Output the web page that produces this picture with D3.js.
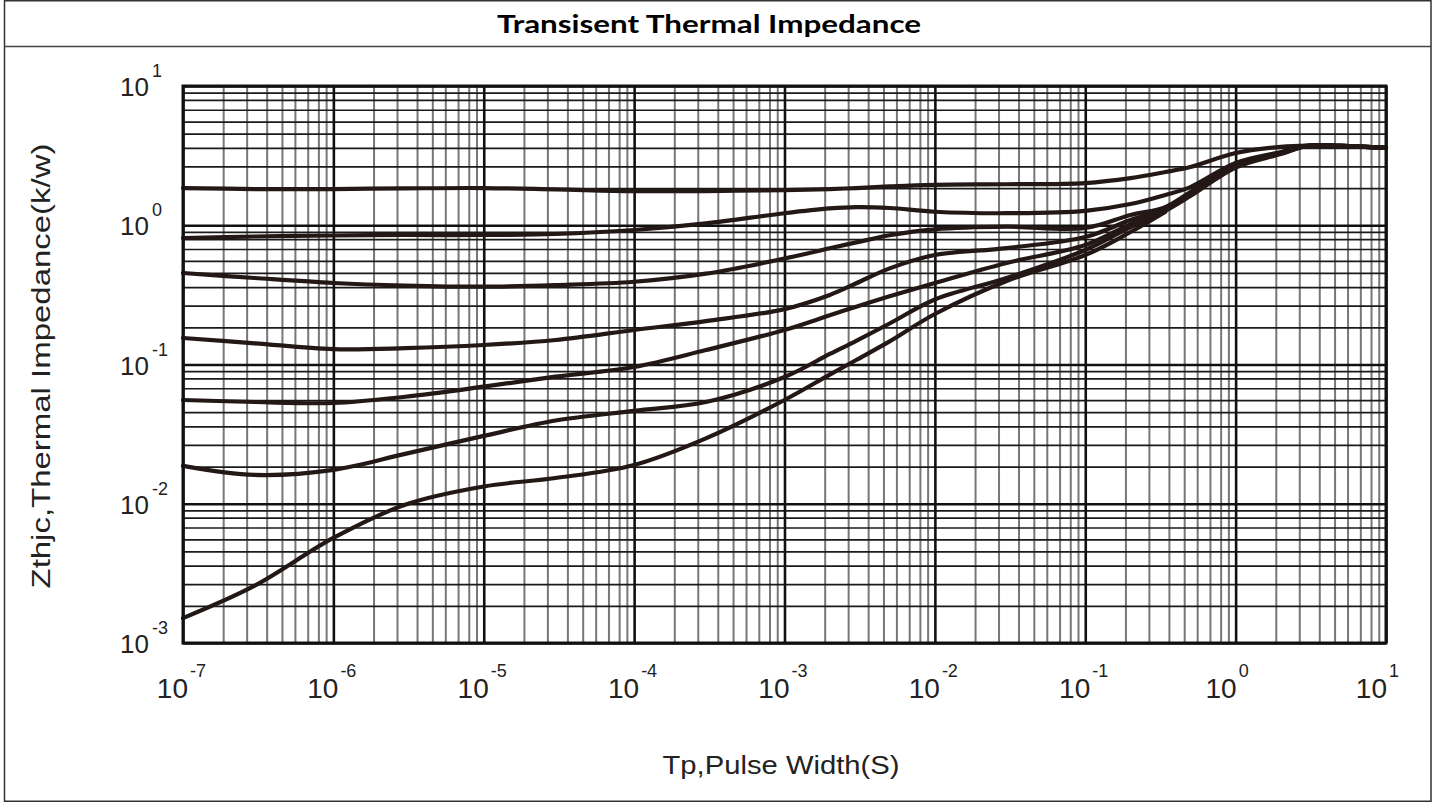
<!DOCTYPE html>
<html>
<head>
<meta charset="utf-8">
<script src="https://cdn.jsdelivr.net/npm/d3@7"></script>
<style>
  body { margin: 0; background: #fff; }
  svg { display: block; }
  .grid .domain { display: none; }
</style>
</head>
<body>
<script>
// Pulse width samples (s) shared by all curves
const pulseWidth = [1e-7, 3e-7, 1e-6, 3e-6, 1e-5, 3e-5, 1e-4, 3e-4, 1e-3, 2e-3, 3e-3, 5e-3,
  1e-2, 3e-2, 1e-1, 2e-1, 3.4e-1, 5e-1, 1, 2, 3, 5, 10];

// Zthjc (K/W), top curve to bottom curve
const zthCurve1 = [1.85, 1.82, 1.82, 1.84, 1.85, 1.81, 1.76, 1.76, 1.79, 1.82, 1.85, 1.90,
  1.95, 1.97, 2.01, 2.18, 2.41, 2.62, 3.30, 3.66, 3.74, 3.71, 3.59];
const zthCurve2 = [0.81, 0.83, 0.844, 0.851, 0.851, 0.865, 0.924, 1.03, 1.22, 1.32, 1.35, 1.33,
  1.25, 1.22, 1.27, 1.42, 1.65, 1.88, 2.80, 3.36, 3.73, 3.71, 3.59];
const zthCurve3 = [0.454, 0.418, 0.385, 0.369, 0.362, 0.372, 0.393, 0.449, 0.577, 0.683, 0.753, 0.847,
  0.935, 0.976, 0.956, 1.185, 1.35, 1.73, 2.73, 3.33, 3.71, 3.71, 3.59];
const zthCurve4 = [0.155, 0.142, 0.129, 0.131, 0.138, 0.150, 0.177, 0.205, 0.25, 0.316, 0.383, 0.49,
  0.611, 0.686, 0.823, 1.09, 1.31, 1.68, 2.68, 3.30, 3.71, 3.71, 3.59];
const zthCurve5 = [0.0556, 0.0538, 0.0529, 0.0587, 0.0693, 0.0818, 0.096, 0.127, 0.177, 0.2256, 0.26, 0.309,
  0.385, 0.536, 0.721, 1.02, 1.287, 1.65, 2.64, 3.27, 3.71, 3.71, 3.59];
const zthCurve6 = [0.0187, 0.0161, 0.0175, 0.0228, 0.0307, 0.0396, 0.0465, 0.0538, 0.0813, 0.119, 0.148, 0.197,
  0.293, 0.418, 0.664, 0.971, 1.266, 1.62, 2.60, 3.25, 3.71, 3.71, 3.59];
const zthCurve7 = [0.00151, 0.00258, 0.00568, 0.00984, 0.0133, 0.0153, 0.019, 0.0295, 0.0556, 0.0846, 0.1077, 0.1465,
  0.2305, 0.398, 0.611, 0.894, 1.245, null, null, null, null, null, null];

// Axis decades (exponents) and the minor grid steps inside each decade
const xExponents = [-7, -6, -5, -4, -3, -2, -1, 0, 1];
const yExponents = [-3, -2, -1, 0, 1];
const gridSteps = [1.85, 2.65, 3.6, 4.55, 5.55, 6.75, 7.95, 8.95];

const chartTitle = 'Transisent Thermal Impedance';
const xTitle = 'Tp,Pulse Width(S)';
const yTitle = 'Zthjc,Thermal Impedance(k/w)';

const W = 1439, H = 803;
const margin = { top: 86, right: 53, bottom: 160, left: 183 };
const plotW = W - margin.left - margin.right;
const plotH = H - margin.top - margin.bottom;

const svg = d3.select('body').append('svg')
  .attr('width', W)
  .attr('height', H);

// Outer frame and title bar
svg.append('rect')
  .attr('x', 4.5).attr('y', 0.75)
  .attr('width', 1426.5).attr('height', 800.5)
  .attr('fill', 'none').attr('stroke', '#333').attr('stroke-width', 1.5);
svg.append('line')
  .attr('x1', 4.5).attr('x2', 1431).attr('y1', 46.5).attr('y2', 46.5)
  .attr('stroke', '#444').attr('stroke-width', 1.5);
svg.append('text')
  .attr('x', 709).attr('y', 33)
  .attr('text-anchor', 'middle')
  .attr('font-family', 'Lato, "Open Sans", sans-serif')
  .attr('font-weight', 'bold')
  .attr('font-size', 24)
  .attr('textLength', 424)
  .attr('lengthAdjust', 'spacingAndGlyphs')
  .text(chartTitle);

const x = d3.scaleLog().domain([1e-7, 10]).range([0, plotW]);
const y = d3.scaleLog().domain([1e-3, 10]).range([plotH, 0]);

const g = svg.append('g').attr('transform', `translate(${margin.left},${margin.top})`);

const xDecades = xExponents.map(e => Math.pow(10, e));
const yDecades = yExponents.map(e => Math.pow(10, e));
const xMinor = xDecades.slice(0, -1).flatMap(d => gridSteps.map(s => d * s));
const yMinor = yDecades.slice(0, -1).flatMap(d => gridSteps.map(s => d * s));

// Minor grid
g.append('g').attr('class', 'grid')
  .attr('transform', `translate(0,${plotH})`)
  .call(d3.axisBottom(x).tickValues(xMinor).tickSize(-plotH).tickFormat(''))
  .selectAll('line').attr('stroke', '#777').attr('stroke-width', 2);
g.append('g').attr('class', 'grid')
  .call(d3.axisLeft(y).tickValues(yMinor).tickSize(-plotW).tickFormat(''))
  .selectAll('line').attr('stroke', '#1a1a1a').attr('stroke-width', 1.7);

// Major grid
g.append('g').attr('class', 'grid')
  .attr('transform', `translate(0,${plotH})`)
  .call(d3.axisBottom(x).tickValues(xDecades).tickSize(-plotH).tickFormat(''))
  .selectAll('line').attr('stroke', '#111').attr('stroke-width', 2.6);
g.append('g').attr('class', 'grid')
  .call(d3.axisLeft(y).tickValues(yDecades).tickSize(-plotW).tickFormat(''))
  .selectAll('line').attr('stroke', '#111').attr('stroke-width', 2.6);

// Curves
const curves = [zthCurve1, zthCurve2, zthCurve3, zthCurve4, zthCurve5, zthCurve6, zthCurve7];
const line = d3.line()
  .defined(d => d.z != null)
  .x(d => x(d.t))
  .y(d => y(d.z))
  .curve(d3.curveCatmullRom.alpha(0.5));

g.append('g').selectAll('path')
  .data(curves.map(c => c.map((z, i) => ({ t: pulseWidth[i], z }))))
  .enter()
  .append('path')
  .attr('d', line)
  .attr('fill', 'none')
  .attr('stroke', '#231815')
  .attr('stroke-width', 4.2)
  .attr('stroke-linecap', 'round');

// Plot frame
g.append('rect')
  .attr('width', plotW).attr('height', plotH)
  .attr('fill', 'none').attr('stroke', '#111').attr('stroke-width', 3);

const font = '"Liberation Sans", Arial, sans-serif';

// Y tick labels: 10 with superscript exponent
yExponents.forEach(e => {
  const py = y(Math.pow(10, e));
  g.append('text')
    .attr('x', -34).attr('y', py + 10)
    .attr('text-anchor', 'end')
    .attr('font-family', font).attr('font-size', 26).attr('fill', '#222')
    .text('10');
  g.append('text')
    .attr('x', -31).attr('y', py - 9)
    .attr('font-family', font).attr('font-size', 18).attr('fill', '#222')
    .text(e);
});

// X tick labels
xExponents.forEach(e => {
  const px = x(Math.pow(10, e));
  const shift = e < 0 ? 5 : 1;
  g.append('text')
    .attr('x', px + shift).attr('y', plotH + 55)
    .attr('text-anchor', 'end')
    .attr('font-family', font).attr('font-size', 28).attr('fill', '#222')
    .text('10');
  g.append('text')
    .attr('x', px + shift + 2).attr('y', plotH + 34)
    .attr('font-family', font).attr('font-size', 18).attr('fill', '#222')
    .text(e);
});

// Axis titles
svg.append('text')
  .attr('x', 781).attr('y', 774)
  .attr('text-anchor', 'middle')
  .attr('font-family', font).attr('font-size', 26).attr('fill', '#222')
  .attr('textLength', 237).attr('lengthAdjust', 'spacingAndGlyphs')
  .text(xTitle);
svg.append('text')
  .attr('transform', 'translate(50,366) rotate(-90)')
  .attr('text-anchor', 'middle')
  .attr('font-family', font).attr('font-size', 25).attr('fill', '#222')
  .attr('textLength', 445).attr('lengthAdjust', 'spacingAndGlyphs')
  .text(yTitle);
</script>
</body>
</html>
